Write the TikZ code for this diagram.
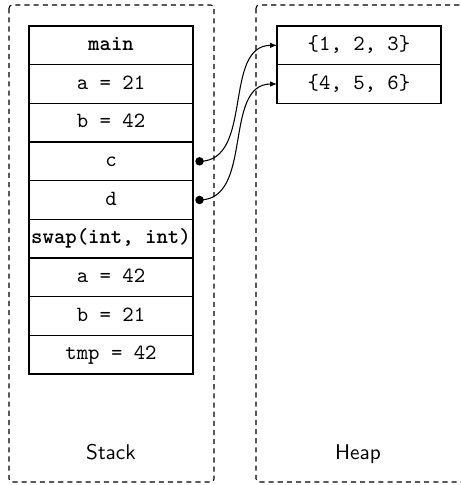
\documentclass[tikz,border=0pt]{standalone}
\usetikzlibrary{arrows.meta}
\begin{document}
\begin{tikzpicture}[x=0.47pt,y=-0.47pt,
  region/.style={draw=black,line width=0.5pt,dash pattern=on 2.4pt off 1.9pt,rounded corners=1.5pt},
  cell/.style={draw,line width=0.6pt,outer sep=0pt,minimum width=77.1pt,minimum height=18.17pt,inner sep=0pt,font=\fontsize{10.2}{12}\ttfamily,text height=7pt,text depth=2pt},
  bcell/.style={cell,font=\fontsize{10.2}{12}\ttfamily\bfseries},
  dot/.style={circle,fill,inner sep=0pt,minimum size=4pt},
  ptr/.style={line width=0.5pt,-{Latex[length=3.2pt,width=2.6pt]}},
  lbl/.style={font=\sffamily,anchor=base}]
\useasboundingbox (0,0) rectangle (461,485);
\clip (0,0) rectangle (461,485);
\draw[region] (9,5) rectangle (214,482);
\draw[region] (256,5) rectangle (470,482);
\node[bcell] (main) at (111,45.33) {main};
\node[cell,anchor=north] (a1) at (main.south) {a = 21};
\node[cell,anchor=north] (b1) at (a1.south) {b = 42};
\node[cell,anchor=north] (c) at (b1.south) {c};
\node[cell,anchor=north] (d) at (c.south) {d};
\node[bcell,anchor=north] (swap) at (d.south) {swap(int, int)};
\node[cell,anchor=north] (a2) at (swap.south) {a = 42};
\node[cell,anchor=north] (b2) at (a2.south) {b = 21};
\node[cell,anchor=north] (tmp) at (b2.south) {tmp = 42};
\node[cell] (h1) at (359,45.33) {\{1, 2, 3\}};
\node[cell,anchor=north] (h2) at (h1.south) {\{4, 5, 6\}};
\node[dot] (pc) at ([xshift=6.5*0.47pt]c.east) {};
\node[dot] (pd) at ([xshift=6.5*0.47pt]d.east) {};
\draw[ptr] (pc.center) to[out=0,in=180] (h1.west);
\draw[ptr] (pd.center) to[out=0,in=180] (h2.west);
\node[lbl] (stk) at (111,459) {Stack};
\node[lbl] (hp) at (358,459) {Heap};
\end{tikzpicture}
\end{document}
